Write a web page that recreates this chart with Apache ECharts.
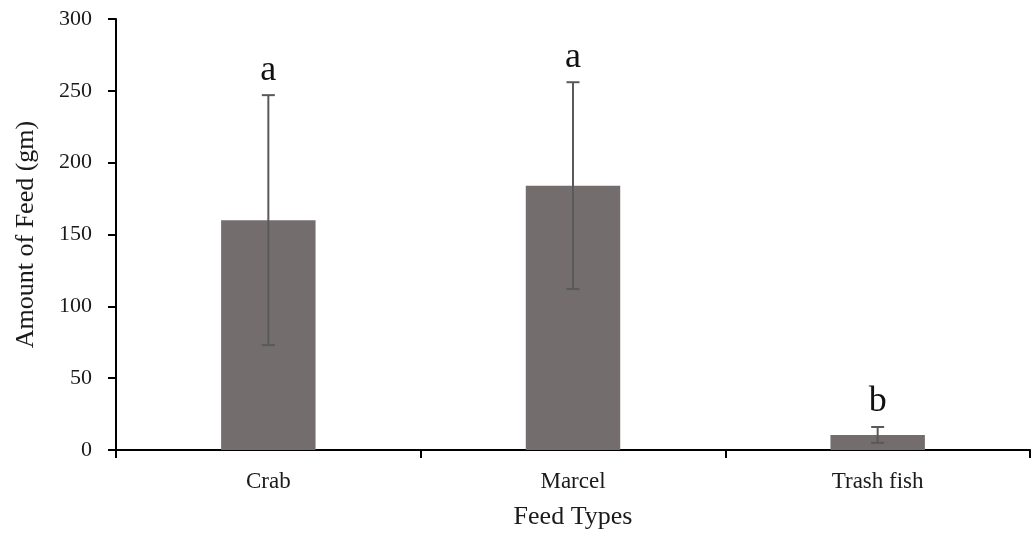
<!DOCTYPE html>
<html>
<head>
<meta charset="utf-8">
<script src="https://cdn.jsdelivr.net/npm/echarts@6/dist/echarts.min.js"></script>
<style>html,body{margin:0;padding:0;background:#fff;}#c{width:1033px;height:535px;}</style>
</head>
<body>
<div id="c"></div>
<script>
const categories = ['Crab', 'Marcel', 'Trash fish'];
const means = [160, 184, 10.5];
const errors = [87, 72, 5.5];
const letters = ['a', 'a', 'b'];
const yTicks = [0, 50, 100, 150, 200, 250, 300];

const chart = echarts.init(document.getElementById('c'));
const font = 'Liberation Serif, Times New Roman, serif';
const errData = categories.map((c, i) => [i, means[i] - errors[i], means[i] + errors[i], letters[i]]);

chart.setOption({
  animation: false,
  grid: { left: 116, right: 3, top: 19, bottom: 82 },
  xAxis: {
    type: 'category',
    data: categories,
    name: 'Feed Types',
    nameLocation: 'middle',
    nameGap: 54,
    nameTextStyle: { fontFamily: font, fontSize: 26, color: '#1a1a1a' },
    axisLine: { lineStyle: { color: '#000', width: 2 } },
    axisTick: { show: true, length: 8, lineStyle: { color: '#000', width: 2 } },
    axisLabel: { fontFamily: font, fontSize: 23, color: '#1a1a1a', margin: 20 }
  },
  yAxis: {
    type: 'value',
    min: yTicks[0],
    max: yTicks[yTicks.length - 1],
    interval: 50,
    name: 'Amount of Feed (gm)',
    nameLocation: 'middle',
    nameRotate: 90,
    nameGap: 77,
    nameTextStyle: { fontFamily: font, fontSize: 26, color: '#1a1a1a' },
    axisLine: { show: true, lineStyle: { color: '#000', width: 2 } },
    axisTick: { show: true, length: 8, lineStyle: { color: '#000', width: 2 } },
    axisLabel: { fontFamily: font, fontSize: 22, color: '#1a1a1a', margin: 24 },
    splitLine: { show: false }
  },
  series: [
    {
      type: 'bar',
      data: means,
      barWidth: '31%',
      itemStyle: { color: '#736e6d' }
    },
    {
      type: 'custom',
      data: errData,
      z: 10,
      renderItem: function (params, api) {
        const x = api.value(0);
        const lo = api.coord([x, api.value(1)]);
        const hi = api.coord([x, api.value(2)]);
        const cap = 6.5;
        const style = { stroke: '#595959', lineWidth: 2 };
        return {
          type: 'group',
          children: [
            { type: 'line', shape: { x1: hi[0], y1: hi[1], x2: lo[0], y2: lo[1] }, style: style },
            { type: 'line', shape: { x1: hi[0] - cap, y1: hi[1], x2: hi[0] + cap, y2: hi[1] }, style: style },
            { type: 'line', shape: { x1: lo[0] - cap, y1: lo[1], x2: lo[0] + cap, y2: lo[1] }, style: style },
            { type: 'text', style: { text: api.value(3), x: hi[0], y: hi[1] - 7, align: 'center', verticalAlign: 'bottom', fontFamily: font, fontSize: 36, fill: '#111' } }
          ]
        };
      }
    }
  ]
});
</script>
</body>
</html>
